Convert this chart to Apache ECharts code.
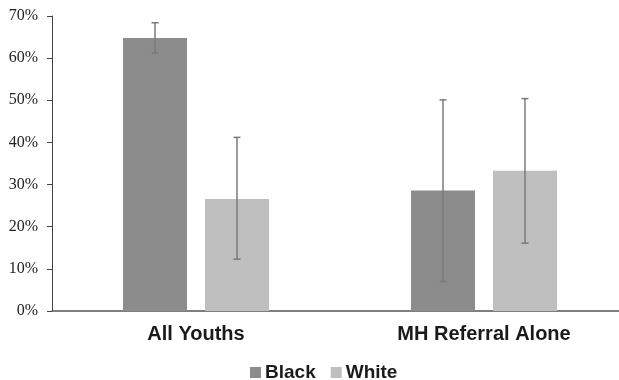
<!DOCTYPE html>
<html>
<head>
<meta charset="utf-8">
<script src="https://cdn.jsdelivr.net/npm/echarts@6/dist/echarts.min.js"></script>
<style>html,body{margin:0;padding:0;background:#fff;}#c{width:619px;height:380px;}</style>
</head>
<body>
<div id="c"></div>
<script>
const categories = ['All Youths', 'MH Referral Alone'];
const seriesNames = ['Black', 'White'];
const blackValues = [64.8, 28.6];
const whiteValues = [26.6, 33.3];
const blackLow = [61.2, 7.0];
const blackHigh = [68.4, 50.1];
const whiteLow = [12.3, 16.1];
const whiteHigh = [41.2, 50.4];
const yTicks = [0, 10, 20, 30, 40, 50, 60, 70];

const BAR_W = 64, GAP = 18;
const colors = ['#8c8c8c', '#bfbfbf'];

function errSeries(low, high, sign) {
  return {
    type: 'custom',
    z: 10,
    silent: true,
    data: categories.map((c, i) => [i, low[i], high[i]]),
    renderItem: function (params, api) {
      const i = api.value(0);
      const band = api.size([1, 0])[0];
      const off = sign * band * ((BAR_W + GAP) / 2) / 288;
      const p1 = api.coord([i, api.value(1)]);
      const p2 = api.coord([i, api.value(2)]);
      const x = p1[0] + off;
      const cw = 3.5;
      const st = { stroke: '#7a7a7a', lineWidth: 1.5 };
      return {
        type: 'group',
        children: [
          { type: 'line', shape: { x1: x, y1: p1[1], x2: x, y2: p2[1] }, style: st },
          { type: 'line', shape: { x1: x - cw, y1: p1[1], x2: x + cw, y2: p1[1] }, style: st },
          { type: 'line', shape: { x1: x - cw, y1: p2[1], x2: x + cw, y2: p2[1] }, style: st }
        ]
      };
    }
  };
}

const chart = echarts.init(document.getElementById('c'));
chart.setOption({
  animation: false,
  grid: { left: 52, width: 576, top: 16, bottom: 69, containLabel: false, outerBoundsMode: 'none' },
  legend: {
    data: seriesNames,
    top: 358,
    left: 245,
    itemWidth: 11,
    itemHeight: 11,
    itemGap: 15,
    icon: 'rect',
    textStyle: { fontFamily: 'Liberation Sans, Arial, sans-serif', fontWeight: 'bold', fontSize: 19, color: '#1a1a1a', padding: [0, 0, 0, -1] }
  },
  xAxis: {
    type: 'category',
    data: categories,
    axisLine: { lineStyle: { color: '#555', width: 1.5 } },
    axisTick: { show: false },
    axisLabel: { fontFamily: 'Liberation Sans, Arial, sans-serif', fontWeight: 'bold', fontSize: 20, color: '#1a1a1a', margin: 13 }
  },
  yAxis: {
    type: 'value',
    min: 0, max: 70, interval: 10,
    axisLine: { show: true, lineStyle: { color: '#444', width: 1 } },
    axisTick: { show: true, length: 5, lineStyle: { color: '#444' } },
    splitLine: { show: false },
    axisLabel: {
      fontFamily: 'Liberation Serif, Times New Roman, serif', fontSize: 16, color: '#222', margin: 14,
      formatter: v => yTicks.includes(v) ? v + '%' : ''
    }
  },
  series: [
    { name: 'Black', type: 'bar', data: blackValues, barWidth: BAR_W, barGap: (GAP / BAR_W * 100) + '%', itemStyle: { color: colors[0] } },
    { name: 'White', type: 'bar', data: whiteValues, barWidth: BAR_W, itemStyle: { color: colors[1] } },
    errSeries(blackLow, blackHigh, -1),
    errSeries(whiteLow, whiteHigh, 1)
  ]
});
</script>
</body>
</html>
